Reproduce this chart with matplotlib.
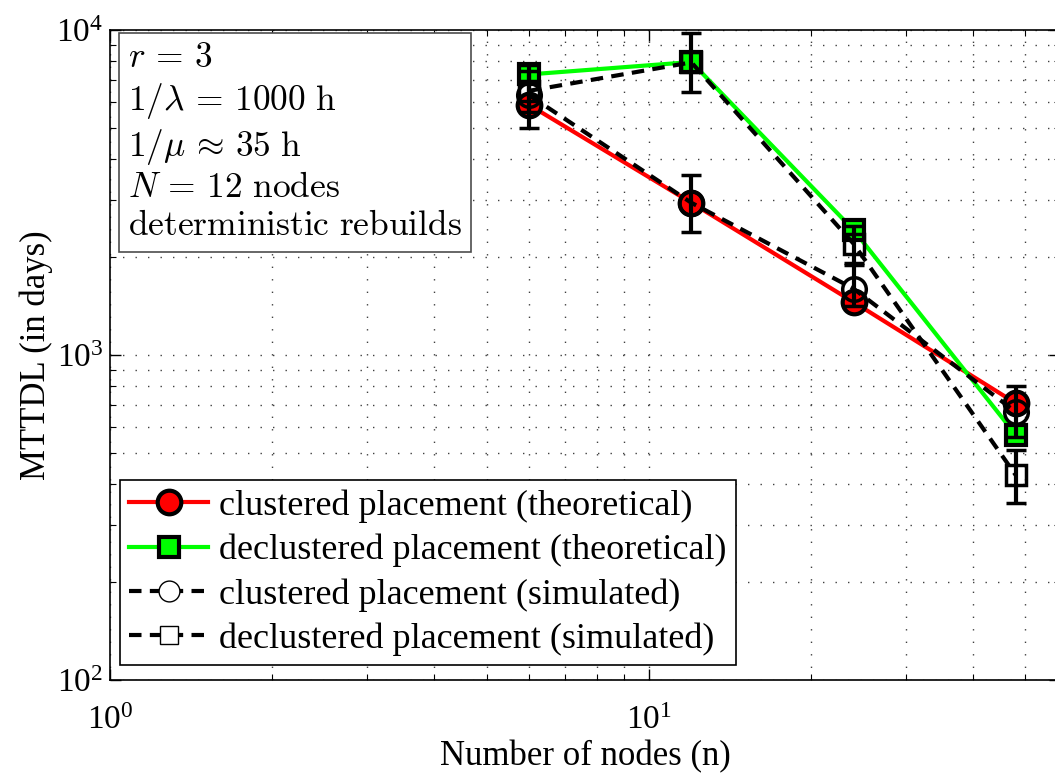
import numpy as np
import matplotlib.pyplot as plt
from matplotlib.ticker import FuncFormatter, LogLocator

plt.rcParams['font.family'] = ['Liberation Serif', 'DejaVu Serif']
plt.rcParams['mathtext.fontset'] = 'cm'

# number of nodes
n = [6, 12, 24, 48]

# MTTDL in days, theoretical
clus_theo = [5880, 2940, 1455, 711]
declus_theo = [7300, 7970, 2425, 568]

# MTTDL in days, simulated, with error bounds
clus_sim = [6300, 2940, 1600, 668]
clus_sim_lo = [4990, 2390, 1420, 560]
clus_sim_hi = [7800, 3580, 1890, 800]
declus_sim = [6500, 7950, 2200, 427]
declus_sim_lo = [5600, 6440, 1920, 351]
declus_sim_hi = [7500, 9790, 2500, 510]

info = [r'$r\,=\,3$',
        r'$1/\lambda\,=\,1000\ \mathrm{h}$',
        r'$1/\mu\,\approx\,35\ \mathrm{h}$',
        r'$N\,=\,12\ \mathrm{nodes}$',
        r'$\mathrm{deterministic\ rebuilds}$']

fig = plt.figure(figsize=(10.55, 7.74), dpi=100)
ax = fig.add_axes([110/1055, 1-680/774, (1060-110)/1055, 650/774])

ax.set_xscale('log')
ax.set_yscale('log')

dash = (0, (3, 2))

h1, = ax.plot(n, clus_theo, '-o', color='r', lw=3, ms=17, mfc='r', mec='k', mew=3,
              label='clustered placement (theoretical)')
h2, = ax.plot(n, declus_theo, '-s', color=(0, 1, 0), lw=3, ms=15, mfc=(0, 1, 0), mec='k', mew=3,
              label='declustered placement (theoretical)')

err1 = [np.array(clus_sim) - np.array(clus_sim_lo), np.array(clus_sim_hi) - np.array(clus_sim)]
err2 = [np.array(declus_sim) - np.array(declus_sim_lo), np.array(declus_sim_hi) - np.array(declus_sim)]
ax.errorbar(n, clus_sim, yerr=err1, fmt='o', ls=dash, color='k', lw=3, ms=17,
            mfc='none', mec='k', mew=2.5, ecolor='k', elinewidth=3, capsize=7, capthick=3)
ax.errorbar(n, declus_sim, yerr=err2, fmt='s', ls=dash, color='k', lw=3, ms=15,
            mfc='none', mec='k', mew=2.5, ecolor='k', elinewidth=3, capsize=7, capthick=3)

# legend-only handles for the simulated series
h3, = ax.plot([], [], ls=dash, color='k', lw=3, marker='o', ms=15, mfc='w', mec='k', mew=1,
              label='clustered placement (simulated)')
h4, = ax.plot([], [], ls=dash, color='k', lw=3, marker='s', ms=13, mfc='w', mec='k', mew=1,
              label='declustered placement (simulated)')

ax.set_xlim(1, 58)
ax.set_ylim(100, 10000)

fmt = FuncFormatter(lambda v, p: r'$\mathregular{10^{%d}}$' % round(np.log10(v)))
ax.xaxis.set_major_formatter(fmt)
ax.yaxis.set_major_formatter(fmt)
ax.xaxis.set_major_locator(LogLocator(base=10, numticks=10))
ax.yaxis.set_major_locator(LogLocator(base=10, numticks=10))
ax.tick_params(which='both', direction='in', top=True, right=True, labelsize=24)
ax.tick_params(axis='x', pad=18)
ax.tick_params(axis='y', pad=5)
ax.tick_params(which='major', length=8, width=1)
ax.tick_params(which='minor', length=4, width=0.8)
ax.grid(True, which='both', ls=(0, (1, 8)), color='0.25', lw=1)
for s in ax.spines.values():
    s.set_linewidth(1.2)

ax.set_xlabel('Number of nodes (n)', fontsize=25, labelpad=3)
ax.set_ylabel('MTTDL (in days)', fontsize=25, labelpad=2)

ax.text(0.019, 0.981, '\n'.join(info), transform=ax.transAxes, fontsize=25.5, va='top', ha='left',
        linespacing=1.2,
        bbox=dict(boxstyle='square,pad=0.25', fc='w', ec='0.3', lw=1.2))

leg = ax.legend(handles=[h1, h2, h3, h4], loc='lower left', bbox_to_anchor=(0.0105, 0.023),
                borderaxespad=0, fontsize=26, frameon=True, fancybox=False, edgecolor='k',
                framealpha=1, handlelength=2.2, handletextpad=0.3, borderpad=0.25,
                labelspacing=0.3)
leg.get_frame().set_linewidth(1.2)

fig.savefig('out.png', dpi=100)
